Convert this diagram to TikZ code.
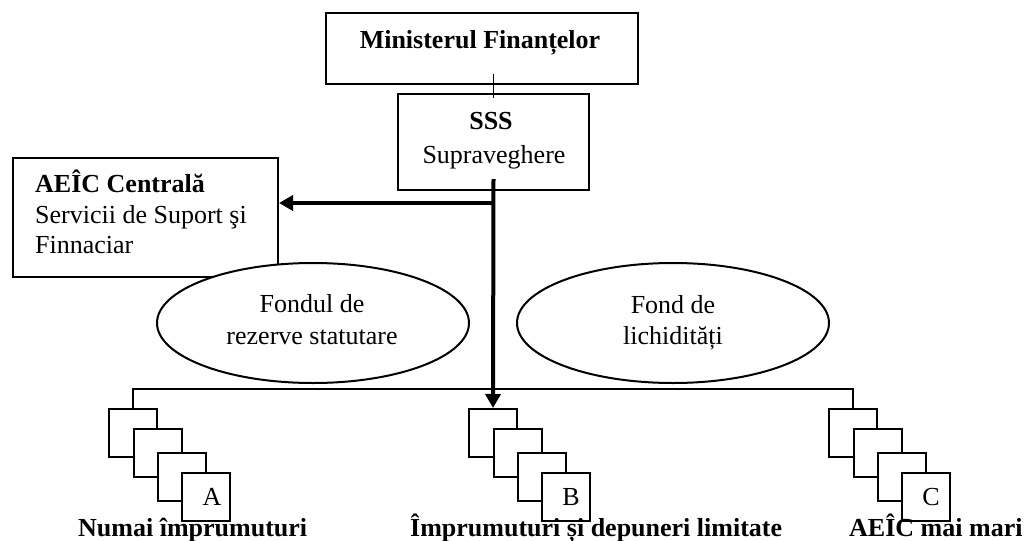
\documentclass[tikz,border=0pt]{standalone}
\usepackage{fontspec}
\setmainfont{Liberation Serif}
\usetikzlibrary{arrows.meta,shapes.geometric,calc}
\begin{document}
\begin{tikzpicture}[x=1pt,y=-1pt,
  every node/.style={font=\fontsize{26}{31}\selectfont, inner sep=0pt},
  boxnode/.style={draw, line width=2pt, anchor=north west},
  ellnode/.style={draw, ellipse, fill=white, line width=2pt},
  sqnode/.style={draw, fill=white, line width=2pt, anchor=north west, minimum size=48pt},
  thinline/.style={line width=1.8pt},
  thickline/.style={line width=4pt},
  arr/.style={-{Triangle[length=14pt,width=15pt]}}
]
\useasboundingbox (0,0) rectangle (1029,541);
% boxes
\node[boxnode, minimum width=312pt, minimum height=71pt] (min) at (325,12) {};
\node[boxnode, minimum width=191pt, minimum height=96pt] (sss) at (397,93) {};
\node[boxnode, minimum width=265pt, minimum height=119pt] (aeic) at (12,157) {};
% ellipses
\node[ellnode, minimum width=312pt, minimum height=120pt] (fr) at (313,323) {};
\node[ellnode, minimum width=312pt, minimum height=120pt] (fl) at (673,323) {};
% texts
\node[anchor=base] (tmin) at (480,48) {\textbf{Ministerul Finanțelor}};
\node[anchor=base] (tsss) at (491,129) {\textbf{SSS}};
\node[anchor=base] (tsup) at (494,163) {Supraveghere};
\node[anchor=base west] (ta1) at (35,192) {\textbf{AEÎC Centrală}};
\node[anchor=base west] (ta2) at (35,223) {Servicii de Suport şi};
\node[anchor=base west] (ta3) at (35,253) {Finnaciar};
\node[anchor=base] (tf1) at (312,312) {Fondul de};
\node[anchor=base] (tf2) at (312,344) {rezerve statutare};
\node[anchor=base] (tl1) at (673,313) {Fond de};
\node[anchor=base] (tl2) at (673,344) {lichidități};
% stacks
\foreach \s/\x in {a/108,b/468,c/828} {
  \node[sqnode] (\s1) at (\x,408) {};
  \node[sqnode] (\s2) at (\x+24.5,428) {};
  \node[sqnode] (\s3) at (\x+49,452) {};
  \node[sqnode] (\s4) at (\x+73,472) {};
}
\node (la) at ([xshift=6pt]a4.center) {A};
\node (lb) at ([xshift=5pt]b4.center) {B};
\node (lc) at ([xshift=5pt]c4.center) {C};
% connectors
\draw[thinline] ([yshift=19pt]sss.north) -- ([yshift=-5pt]sss.north);
\coordinate (j) at ($(sss.south)+(0,12)$);
\draw[thinline] (a1.north) -- ++(0,-19) -| (c1.north);
\draw[thickline, arr] ([yshift=12pt]sss.south) -- (b1.north);
\draw[thickline, arr] (j) -- (j -| aeic.east);
% bottom labels
\node[anchor=base west] (na) at (78,536) {\textbf{Numai împrumuturi}};
\node[anchor=base west] (nb) at (410,536) {\textbf{Împrumuturi și depuneri limitate}};
\node[anchor=base west] (nc) at (849,536) {\textbf{AEÎC mai mari}};
\end{tikzpicture}
\end{document}
